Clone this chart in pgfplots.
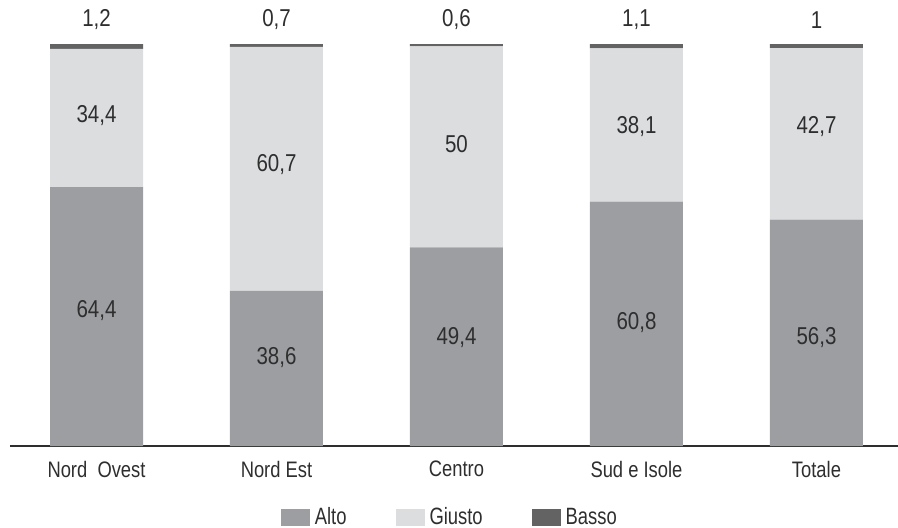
\documentclass[border=0pt]{standalone}
\usepackage{pgfplots}
\usepackage{pgfplotstable}
\usepackage{fontspec}
\pgfplotsset{compat=1.18}
\setmainfont{Liberation Sans}[FakeStretch=0.78]
\newfontfamily\numfont{Liberation Sans}[FakeStretch=0.84]
\newfontfamily\tickfont{Liberation Sans}[FakeStretch=0.82]

\definecolor{alto}{HTML}{9D9EA2}
\definecolor{giusto}{HTML}{DCDDDF}
\definecolor{basso}{HTML}{636363}
\definecolor{txt}{HTML}{2E2E2E}

% quote per area (%)
\pgfplotstableread{
x alto giusto basso
0 64.4 34.4 1.2
1 38.6 60.7 0.7
2 49.4 50.0 0.6
3 60.8 38.1 1.1
4 56.3 42.7 1.0
}\quote

% etichette: posizione y e testo
\pgfplotstableread{
x y lab
0 106 1,2
1 106 0,7
2 106 0,6
3 106 1,1
4 106 1
0 82.3 34,4
1 69.9 60,7
2 75.1 50
3 79.4 38,1
4 79.4 42,7
0 33.6 64,4
1 22.1 38,6
2 27.1 49,4
3 30.6 60,8
4 27.1 56,3
}\etichette

\pgfplotsset{
  base/.style={
    scale only axis,
    width=444pt, height=201pt,
    xmin=-0.4806, xmax=4.453,
    ymin=0, ymax=100,
    clip=false,
  }
}

\begin{document}
\begin{tikzpicture}
\useasboundingbox (-5pt,-40.5pt) rectangle (444pt,223pt);
\begin{axis}[
    base,
    ybar stacked,
    bar width=46.5pt,
    axis y line=none,
    axis x line=bottom,
    x axis line style={-, color=txt, line width=0.7pt},
    xtick=data,
    xticklabels={{Nord~~Ovest},{Nord Est},{Centro},{Sud e Isole},{Totale}},
    major tick length=0pt,
    xticklabel style={font=\tickfont\fontsize{11.2}{13}\selectfont, text=txt, yshift=-4pt},
    legend columns=3,
    legend style={at={(0.497,-0.178)}, anchor=center, draw=none, fill=none,
      font=\fontsize{11.8}{14}\selectfont, text=txt,
      nodes={inner sep=2.5pt},
      /tikz/every even column/.append style={column sep=22pt}},
    legend image code/.code={\fill[#1] (0pt,-4.4pt) rectangle (14.5pt,4.4pt);},
]
\addplot[fill=alto, draw=none] table[x=x, y=alto] {\quote};
\addlegendentry{Alto}
\addplot[fill=giusto, draw=none] table[x=x, y=giusto] {\quote};
\addlegendentry{Giusto}
\addplot[fill=basso, draw=none] table[x=x, y=basso] {\quote};
\addlegendentry{Basso}
\end{axis}

\begin{axis}[base, hide axis]
\addplot[draw=none, mark=none, nodes near coords, point meta=explicit symbolic,
  nodes near coords align={center},
  every node near coord/.append style={font=\numfont\fontsize{12.2}{14}\selectfont, text=txt}]
  table[x=x, y=y, meta=lab] {\etichette};
\end{axis}
\end{tikzpicture}
\end{document}
